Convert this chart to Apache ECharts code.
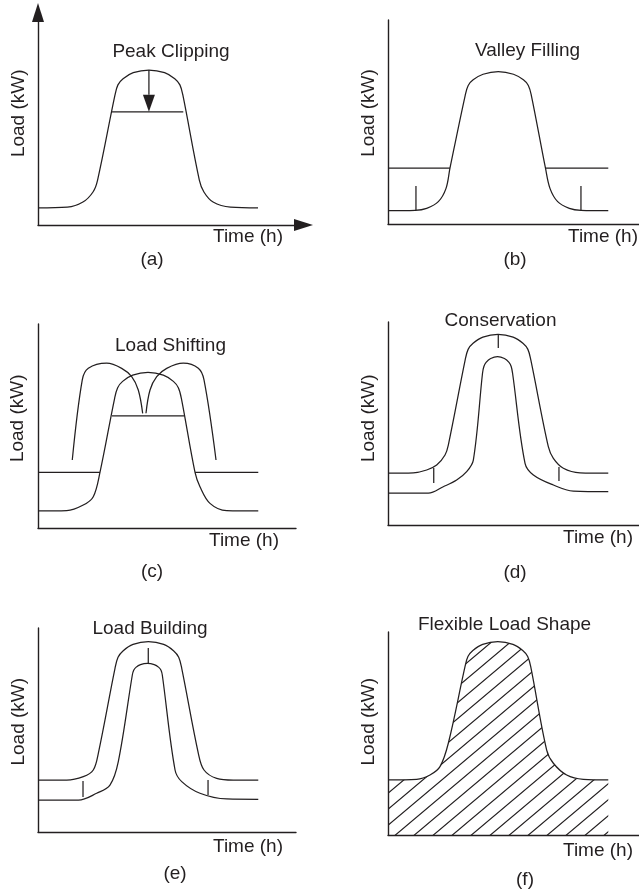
<!DOCTYPE html>
<html><head><meta charset="utf-8">
<script src="https://cdn.jsdelivr.net/npm/echarts@6/dist/echarts.min.js"></script>
<style>html,body{margin:0;padding:0;background:#fff}#c{width:639px;height:890px}</style>
</head><body><div id="c"></div>
<script>
// ---------- data: time in hours (0-24), load in kW-like units ----------
// (a) Peak Clipping
const aCurve = [[0,11],[3.2,11.5],[4.9,14.8],[6,21.3],[6.5,29],[8.4,83.9],[8.72,90.4],[9.28,94.4],[10.39,98.3],[12.1,100],[13.81,98.3],[14.92,94.4],[15.48,90.4],[15.8,83.9],[17.6,29],[18.1,21.3],[19.1,14.8],[21,11.5],[24,11]];
const aClip = [[8.04,73],[15.85,73]];
const aArrowShaft = [[12.1,100],[12.1,84]];
const aArrowHead = [[12.1,78.5]];
// (b) Valley Filling
const bCurve = [[0,8.6],[2.95,8.8],[4.22,10.1],[5.49,14.4],[6.33,23],[6.76,36],[8.43,83.2],[8.75,89.4],[9.29,93],[10.37,96.6],[12.03,98.3],[13.69,96.6],[14.77,93],[15.31,89.4],[15.63,83.2],[17.18,36],[17.67,23],[18.51,14.4],[19.78,10.1],[21.05,8.8],[24.03,8.6]];
const bValleyL = [[0,36],[6.76,36]];
const bValleyR = [[17.18,36],[24.03,36]];
const bTickL = [[3.05,24.5],[3.05,8.8]];
const bTickR = [[21.05,24.5],[21.05,8.8]];
// (c) Load Shifting
const cCurve = [[0,11],[3.13,11.2],[4.94,14.8],[6.03,20.2],[6.76,35.9],[8.36,83.7],[8.69,90.5],[9.23,94.6],[10.33,98.6],[12,100.4],[13.67,98.6],[14.77,94.6],[15.31,90.5],[15.64,83.7],[17.13,35.9],[17.67,26.6],[18.76,15.9],[20.58,11.2],[24.03,11]];
const cClip = [[8.07,72.3],[15.93,72.3]];
const cValleyL = [[0,35.9],[6.76,35.9]];
const cValleyR = [[17.13,35.9],[24.03,35.9]];
const cShiftL = [[3.74,43.9],[4.83,95.5],[5.49,103],[7.49,106.3],[9.13,103],[10.22,97.6],[10.94,89],[11.42,74]];
const cShiftR = [[11.78,74],[12.22,89],[12.95,97.6],[14.04,103],[15.85,106.3],[17.49,103],[18.11,95.5],[19.42,43.9]];
// (d) Conservation
const dOuter = [[0,33.5],[2.76,33.7],[4.22,35.5],[5.31,38.7],[6.22,45.2],[6.58,51.6],[8.42,106.5],[8.74,113.3],[9.28,117.2],[10.35,121.2],[12,123],[13.65,121.2],[14.72,117.2],[15.26,113.3],[15.58,106.5],[17.49,50.5],[18.04,43],[19.13,36.6],[20.95,33.7],[24.03,33.5]];
const dInner = [[0,20.5],[4.4,20.5],[6.03,24.7],[7.49,29],[8.58,34.4],[9.31,41.9],[10.31,97.9],[10.46,102.3],[10.7,104.9],[11.2,107.4],[11.95,108.6],[12.7,107.4],[13.2,104.9],[13.44,102.3],[13.59,97.9],[14.95,39.8],[15.86,32.3],[18.04,25.8],[20.22,21.9],[24.03,21.5]];
const dTicks = [[[4.99,36.8],[4.99,27.1]],[[12.03,123.2],[12.03,114.2]],[[18.65,37.4],[18.65,28.4]]];
// (e) Load Building
const eOuter = [[0,33.5],[3.13,33.5],[4.94,35.7],[6.03,40],[6.58,50.8],[8.4,105.6],[8.73,112.7],[9.27,116.8],[10.37,121],[12.04,122.8],[13.71,121],[14.81,116.8],[15.35,112.7],[15.68,105.6],[17.49,50.8],[18.11,40],[19.49,34.6],[21.3,33.5],[24.03,33.5]];
const eInner = [[0,20.6],[4.4,20.6],[6.4,25],[7.85,30.3],[8.76,45.4],[10.29,101.3],[10.44,104.4],[10.68,106.2],[11.18,108],[11.93,108.8],[12.68,108],[13.18,106.2],[13.42,104.4],[13.56,101.3],[14.95,40],[15.68,32.5],[17.67,25],[20.59,21.3],[24.03,21.1]];
const eTicks = [[[4.91,32.9],[4.91,22.6]],[[12.03,118.7],[12.03,109]],[[18.55,33.5],[18.55,23.9]]];
// (f) Flexible Load Shape
const fCurve = [[0,35.5],[3.13,35.9],[4.58,38.7],[5.67,44.1],[6.58,59.2],[8.4,108.6],[8.72,115.2],[9.26,119.1],[10.33,123],[11.98,124.7],[13.63,123],[14.7,119.1],[15.24,115.2],[15.57,108.6],[17.31,54.8],[18.04,46.3],[19.49,38.7],[21.31,35.9],[24.03,35.5]];

const titles = ['Peak Clipping','Valley Filling','Load Shifting','Conservation','Load Building','Flexible Load Shape'];
const letters = ['(a)','(b)','(c)','(d)','(e)','(f)'];
const yName = 'Load (kW)';
const xName = 'Time (h)';

// ---------- layout ----------
const INK = '#231f20';
const FONT = '"Liberation Sans", Arial, Helvetica, sans-serif';
const PXH = 220/24;   // px per hour
const PXL = 1.55;     // px per load unit
// plot boxes: left (y-axis x), top (y-axis top), right (x-axis end), bottom (x-axis y)
const boxes = [
  {l:38, t:12.5, r:303.5, b:225, arrows:true},
  {l:388, t:20, r:641, b:224},
  {l:38, t:324, r:296, b:528},
  {l:388, t:322, r:641, b:525},
  {l:38, t:628, r:296, b:832},
  {l:388, t:632, r:641, b:835}
];
const titlePos = [[171,52],[527.5,51],[170.5,345.5],[500.5,320.5],[150,628.5],[504.5,625]];
const timePos = [[248,237],[603,237],[244,540.5],[598,538],[248,846.5],[598,850.5]];
const letterPos = [[152,260],[515,260],[152,572],[515,573],[175,874],[525,880]];
const loadPos = [[19,113.3],[368.5,113],[18,418.3],[368.5,418.3],[18.5,721.7],[368.5,721.7]];

function hatch(w,h,color,lw){
  const c=document.createElement('canvas'); c.width=w; c.height=h;
  const g=c.getContext('2d'); g.strokeStyle=color; g.lineWidth=lw;
  g.beginPath();
  [[0,h,w,0],[-w,h,w,-h],[0,2*h,2*w,0]].forEach(s=>{g.moveTo(s[0],s[1]);g.lineTo(s[2],s[3]);});
  g.stroke();
  return c;
}

const grids=[], xAxes=[], yAxes=[];
boxes.forEach((bx,i)=>{
  grids.push({left:bx.l, top:bx.t, width:bx.r-bx.l, height:bx.b-bx.t, containLabel:false, outerBoundsMode:'none'});
  const axBase = {gridIndex:i, type:'value', min:0, axisTick:{show:false}, axisLabel:{show:false}, splitLine:{show:false}};
  const axLine = {show:true, onZero:false, lineStyle:{color:INK, width:1.4}, symbol: bx.arrows?['none','triangle']:'none', symbolSize:[12,19]};
  xAxes.push(Object.assign({}, axBase, {max:(bx.r-bx.l)/PXH, axisLine:axLine}));
  yAxes.push(Object.assign({}, axBase, {max:(bx.b-bx.t)/PXL, axisLine:axLine}));
});

function ln(gi, data, smooth, extra){
  return Object.assign({type:'line', xAxisIndex:gi, yAxisIndex:gi, data:data, symbol:'none', smooth:smooth||false,
    lineStyle:{color:INK, width:1.25}, silent:true, animation:false, z:3}, extra||{});
}
const S = 0.35;
const series = [
  ln(0,aCurve,S), ln(0,aClip), ln(0,aArrowShaft),
  {type:'scatter', xAxisIndex:0, yAxisIndex:0, data:aArrowHead, symbol:'triangle', symbolRotate:180, symbolSize:[12,17], itemStyle:{color:INK, opacity:1}, silent:true, animation:false, z:4},
  ln(1,bCurve,S), ln(1,bValleyL), ln(1,bValleyR), ln(1,bTickL), ln(1,bTickR),
  ln(2,cCurve,S), ln(2,cClip), ln(2,cValleyL), ln(2,cValleyR), ln(2,cShiftL,S), ln(2,cShiftR,S),
  ln(3,dOuter,S), ln(3,dInner,S),
  ln(4,eOuter,S), ln(4,eInner,S),
  ln(5,fCurve,S,{areaStyle:{color:{image:hatch(19,16,INK,1.2), repeat:'repeat'}, opacity:1}})
];
dTicks.forEach(t=>series.push(ln(3,t)));
eTicks.forEach(t=>series.push(ln(4,t)));

const txt = (x,y,text,rot)=>({type:'text', x:x, y:y, rotation:rot||0, silent:true,
  style:{text:text, fill:INK, font:'19px '+FONT, align:'center', verticalAlign:'middle'}});
const graphics=[];
for(let i=0;i<6;i++){
  graphics.push(txt(titlePos[i][0],titlePos[i][1],titles[i]));
  graphics.push(txt(timePos[i][0],timePos[i][1],xName));
  graphics.push(txt(letterPos[i][0],letterPos[i][1],letters[i]));
  graphics.push(txt(loadPos[i][0],loadPos[i][1],yName,Math.PI/2));
}

const chart = echarts.init(document.getElementById('c'), null, {renderer:'canvas'});
chart.setOption({
  backgroundColor:'#fff', animation:false,
  grid:grids, xAxis:xAxes, yAxis:yAxes, series:series, graphic:graphics
});
</script></body></html>
